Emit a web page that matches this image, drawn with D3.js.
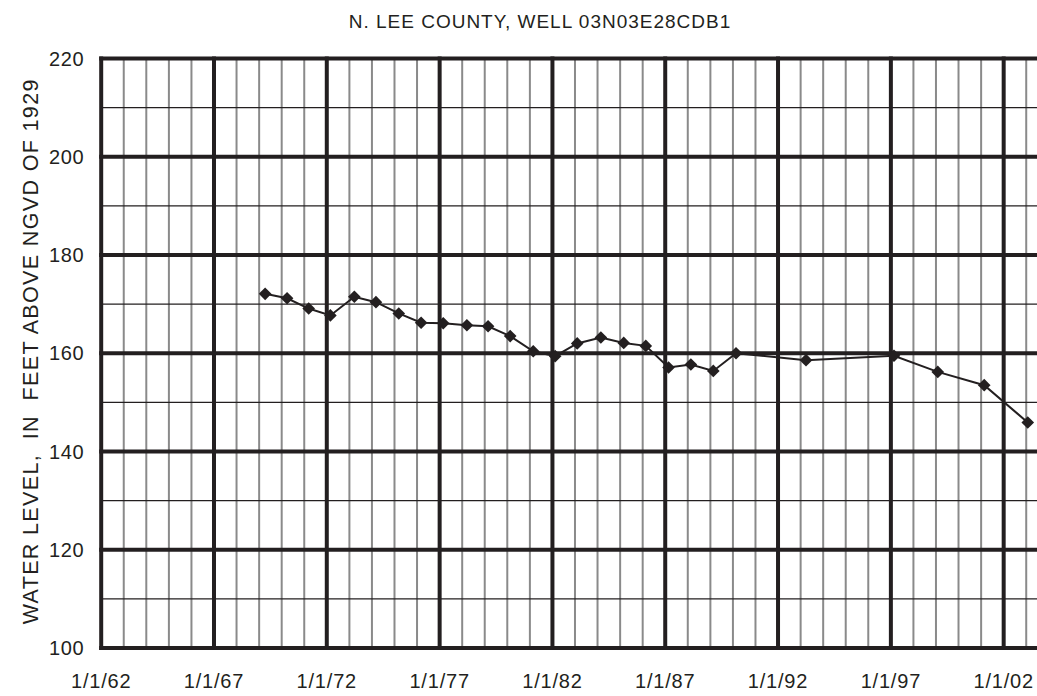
<!DOCTYPE html>
<html>
<head>
<meta charset="utf-8">
<script src="https://cdn.jsdelivr.net/npm/d3@7"></script>
<style>
  body { margin: 0; background: #fff; }
  svg text { font-family: "Liberation Sans", Arial, sans-serif; fill: #231f20; }
</style>
</head>
<body>
<svg id="chart" width="1037" height="696"></svg>
<script>
const title = 'N. LEE COUNTY, WELL 03N03E28CDB1'
const yTitle = 'WATER LEVEL,  IN  FEET ABOVE NGVD OF 1929'

// measurement dates and water levels
const dates = [
  '1969-04-08', '1970-03-29', '1971-03-14', '1972-02-28', '1973-03-22',
  '1974-03-07', '1975-03-11', '1976-03-07', '1977-02-28', '1978-03-18',
  '1979-02-24', '1980-02-17', '1981-02-24', '1982-02-14', '1983-02-06',
  '1984-02-24', '1985-02-28', '1986-02-20', '1987-02-24', '1988-02-20',
  '1989-02-17', '1990-02-20', '1993-03-29', '1997-02-20', '1999-01-30',
  '2001-02-20', '2003-01-26'
]
const levels = [
  172.1, 171.2, 169.1, 167.7, 171.5,
  170.4, 168.1, 166.2, 166.1, 165.7,
  165.5, 163.5, 160.4, 159.4, 162.0,
  163.2, 162.1, 161.5, 157.1, 157.7,
  156.4, 160.0, 158.6, 159.5, 156.2,
  153.5, 145.9
]

const xLabels = ['1/1/62', '1/1/67', '1/1/72', '1/1/77', '1/1/82', '1/1/87', '1/1/92', '1/1/97', '1/1/02']
const yMajor = [100, 120, 140, 160, 180, 200, 220]

const parse = d3.timeParse('%Y-%m-%d')
const data = dates.map((d, i) => ({ date: parse(d), level: levels[i] }))

const svg = d3.select('#chart')
const ink = '#231f20'

const x = d3.scaleTime()
    .domain([new Date(1962, 0, 1), new Date(2003, 6, 1)])
    .range([101.2, 1037.4])

const y = d3.scaleLinear()
    .domain([100, 220])
    .range([648, 58.5])

const plotLeft = x.range()[0]
const plotRight = 1040
const plotTop = y(220)
const plotBottom = y(100)

const years = d3.timeYear.range(new Date(1962, 0, 1), new Date(2004, 0, 1))
const majorYears = years.filter(d => (d.getFullYear() - 1962) % 5 === 0)
const minorYears = years.filter(d => (d.getFullYear() - 1962) % 5 !== 0)
const minorLevels = d3.range(110, 220, 20)

// thin grid
svg.append('g')
  .selectAll('line')
  .data(minorYears)
  .join('line')
    .attr('x1', d => x(d))
    .attr('x2', d => x(d))
    .attr('y1', plotTop)
    .attr('y2', plotBottom)
    .attr('stroke', '#8a8a8a')
    .attr('stroke-width', 2)

svg.append('g')
  .selectAll('line')
  .data(minorLevels)
  .join('line')
    .attr('x1', plotLeft)
    .attr('x2', plotRight)
    .attr('y1', d => y(d))
    .attr('y2', d => y(d))
    .attr('stroke', ink)
    .attr('stroke-width', 1.2)

// thick grid
svg.append('g')
  .selectAll('line')
  .data(majorYears)
  .join('line')
    .attr('x1', d => x(d))
    .attr('x2', d => x(d))
    .attr('y1', plotTop - 2)
    .attr('y2', plotBottom + 2)
    .attr('stroke', ink)
    .attr('stroke-width', 4)

svg.append('g')
  .selectAll('line')
  .data(yMajor)
  .join('line')
    .attr('x1', plotLeft - 2)
    .attr('x2', plotRight)
    .attr('y1', d => y(d))
    .attr('y2', d => y(d))
    .attr('stroke', ink)
    .attr('stroke-width', 4)

// tick labels
svg.append('g')
  .selectAll('text')
  .data(yMajor)
  .join('text')
    .attr('x', plotLeft - 17)
    .attr('y', d => y(d))
    .attr('dy', '0.36em')
    .attr('text-anchor', 'end')
    .attr('font-size', 20)
    .attr('letter-spacing', 0.6)
    .text(d => d)

svg.append('g')
  .selectAll('text')
  .data(majorYears)
  .join('text')
    .attr('x', d => x(d))
    .attr('y', 688)
    .attr('text-anchor', 'middle')
    .attr('font-size', 20)
    .attr('letter-spacing', 0.8)
    .text((d, i) => xLabels[i])

// titles
svg.append('text')
    .attr('x', 540)
    .attr('y', 28)
    .attr('text-anchor', 'middle')
    .attr('font-size', 19)
    .attr('letter-spacing', 1)
    .text(title)

svg.append('text')
    .attr('transform', `translate(38,${(plotTop + plotBottom) / 2 - 2}) rotate(-90)`)
    .attr('text-anchor', 'middle')
    .attr('font-size', 21.5)
    .attr('letter-spacing', 1.35)
    .style('white-space', 'pre')
    .attr('xml:space', 'preserve')
    .text(yTitle)

// series
const line = d3.line()
    .x(d => x(d.date))
    .y(d => y(d.level))

svg.append('path')
    .datum(data)
    .attr('d', line)
    .attr('fill', 'none')
    .attr('stroke', ink)
    .attr('stroke-width', 2)

svg.append('g')
  .selectAll('path')
  .data(data)
  .join('path')
    .attr('d', d3.symbol(d3.symbolSquare, 80))
    .attr('transform', d => `translate(${x(d.date)},${y(d.level)}) rotate(45)`)
    .attr('fill', ink)
</script>
</body>
</html>
